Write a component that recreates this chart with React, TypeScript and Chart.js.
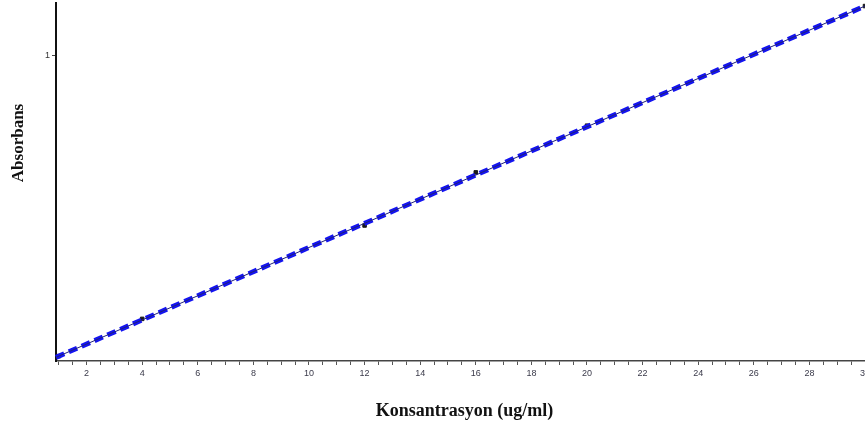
import React, { useEffect, useRef } from "react";
import { Chart, registerables } from "chart.js";

Chart.register(...registerables);

// Standard concentrations (ug/ml) and measured absorbance
const standardConc = [1, 4, 12, 16, 20, 30];
const standardAbs = [0.016, 0.138, 0.444, 0.618, 0.771, 1.163];

// Calibration line end points
const fitConc = [0.9, 30];
const fitAbs = [0.012, 1.163];

// Axis settings
const xMin = 0.9;
const xMax = 30;
const yMin = 0;
const yMax = 1.173;
const yTickValues = [1];
const xLabelStep = 2;
const xMinorStep = 0.5;

const xTitle = "Konsantrasyon (ug/ml)";
const yTitle = "Absorbans";

const titlePlugin = {
  id: "axisTitles",
  afterDraw(chart: any) {
    const { ctx, chartArea } = chart;
    ctx.save();
    ctx.fillStyle = "#111";
    ctx.textAlign = "center";
    ctx.textBaseline = "middle";
    ctx.font = "bold 18px 'Liberation Serif', 'Times New Roman', serif";
    ctx.fillText(xTitle, (chartArea.left + chartArea.right) / 2 + 4, chartArea.bottom + 50);
    ctx.font = "bold 17px 'Liberation Serif', 'Times New Roman', serif";
    ctx.translate(19, chartArea.top + 140);
    ctx.rotate(-Math.PI / 2);
    ctx.fillText(yTitle, 0, 0);
    ctx.restore();
  },
};

export default function App() {
  const ref = useRef<HTMLCanvasElement>(null);

  useEffect(() => {
    document.body.style.margin = "0";
    const fitPts = fitConc.map((x, i) => ({ x, y: fitAbs[i] }));
    const stdPts = standardConc.map((x, i) => ({ x, y: standardAbs[i] }));
    const chart = new Chart(ref.current!, {
      type: "scatter",
      data: {
        datasets: [
          {
            data: stdPts,
            pointStyle: "rect",
            pointRadius: 2.5,
            backgroundColor: "#1a1a1a",
            borderColor: "#1a1a1a",
            showLine: false,
            clip: false,
            order: 3,
          },
          {
            data: fitPts,
            showLine: true,
            borderColor: "#1414f0",
            borderWidth: 5,
            borderDash: [9, 5],
            pointRadius: 0,
            clip: false,
            order: 2,
          },
          {
            data: fitPts,
            showLine: true,
            borderColor: "#20207a",
            borderWidth: 1,
            pointRadius: 0,
            clip: false,
            order: 1,
          },
        ],
      },
      options: {
        animation: false,
        responsive: false,
        maintainAspectRatio: false,
        layout: { autoPadding: false, padding: { top: 3, right: 0, left: 0, bottom: 0 } },
        plugins: { legend: { display: false }, tooltip: { enabled: false } },
        scales: {
          x: {
            type: "linear",
            min: xMin,
            max: xMax,
            afterFit: (s: any) => {
              s.height = 66;
              s.paddingRight = 0;
              s.paddingLeft = 0;
            },
            afterBuildTicks: (s: any) => {
              const t = [];
              for (let v = 1; v <= xMax + 1e-9; v += xMinorStep) t.push({ value: v });
              s.ticks = t;
            },
            grid: {
              display: true,
              drawOnChartArea: false,
              drawTicks: true,
              tickLength: 4,
              color: "#555",
            },
            border: { color: "#444", width: 1.5 },
            ticks: {
              autoSkip: false,
              maxRotation: 0,
              padding: 3,
              color: "#3a3a4a",
              font: { family: "'Liberation Sans', Arial, sans-serif", size: 9 },
              callback: (v: any) =>
                Math.abs(v / xLabelStep - Math.round(v / xLabelStep)) < 1e-6 ? String(v) : "",
            },
          },
          y: {
            type: "linear",
            min: yMin,
            max: yMax,
            afterFit: (s: any) => {
              s.width = 56;
              s.paddingTop = 0;
              s.paddingBottom = 0;
            },
            afterBuildTicks: (s: any) => {
              s.ticks = yTickValues.map((v) => ({ value: v }));
            },
            grid: {
              display: true,
              drawOnChartArea: false,
              drawTicks: true,
              tickLength: 4,
              color: "#444",
            },
            border: { color: "#111", width: 2 },
            ticks: {
              padding: 2,
              color: "#333",
              font: { family: "'Liberation Sans', Arial, sans-serif", size: 9 },
            },
          },
        },
      },
      plugins: [titlePlugin],
    });
    return () => chart.destroy();
  }, []);

  return (
    <div style={{ position: "absolute", left: 0, top: 0, width: 865, height: 427, background: "#fff" }}>
      <canvas ref={ref} width={865} height={427} style={{ display: "block" }} />
    </div>
  );
}
